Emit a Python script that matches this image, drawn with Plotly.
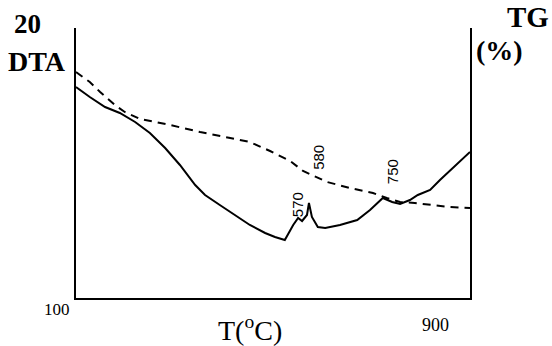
import plotly.graph_objects as go

# DTA curve (solid) - temperature (°C) vs. arbitrary signal
dta_T = [100, 128, 159, 189, 220, 250, 281, 311, 342, 362, 392, 423, 453, 484, 504, 524,
         541, 551, 559, 569, 573, 579, 591, 606, 636, 671, 697, 723, 742, 758, 778, 794,
         819, 839, 866, 894, 900]
dta_v = [211, 201, 191, 185, 176, 165, 150, 133, 113, 103, 93, 83, 73, 65, 61, 58,
         73, 80, 77, 83, 95, 81, 71, 70, 73, 78, 88, 100, 96, 94, 98, 103,
         108, 118, 130, 143, 146]

# TG curve (dashed)
tg_T = [100, 128, 149, 179, 199, 230, 291, 352, 413, 453, 494, 535, 561, 610, 656, 703,
        731, 758, 788, 825, 859, 900]
tg_v = [226, 216, 206, 193, 186, 179, 173, 166, 160, 156, 147, 137, 127, 116, 110, 105,
        100, 96, 95, 93, 91, 90]

# peak annotations
peak_labels = ["570", "580", "750"]
peak_T = [549, 591, 742]
peak_v = [93, 141, 126]

x_ticks = ["100", "900"]

W, H = 552, 346
L, R, T, B = 76, 82, 28, 48
pw, ph = W - L - R, H - T - B

def px(x):
    return (x - L) / pw

def py(y):
    return (H - B - y) / ph

fig = go.Figure()
fig.add_trace(go.Scatter(x=dta_T, y=dta_v, mode="lines",
                         line=dict(color="black", width=2), showlegend=False))
fig.add_trace(go.Scatter(x=tg_T, y=tg_v, mode="lines",
                         line=dict(color="black", width=2, dash="8px,6px"), showlegend=False))

serif = "Liberation Serif, Times New Roman, serif"
narrow = "Liberation Sans Narrow, Arial Narrow, Liberation Sans, sans-serif"

for lab, tx, vy in zip(peak_labels, peak_T, peak_v):
    fig.add_annotation(x=tx, y=vy, xref="x", yref="y", text=lab, showarrow=False,
                       textangle=-90, font=dict(family=narrow, size=15, color="black"))

texts = [
    ("<b>20</b>", 27, 24, 27),
    ("<b>DTA</b>", 37, 61, 28),
    ("<b>TG</b>", 528, 17, 29),
    ("<b>(%)</b>", 500, 51, 28),
    (x_ticks[0], 57, 309, 17),
    (x_ticks[1], 435, 325, 18),
    ("T(<sup>o</sup>C)", 250, 328, 28),
]
for t, x, y, s in texts:
    fig.add_annotation(x=px(x), y=py(y), xref="paper", yref="paper", text=t,
                       showarrow=False, xanchor="center", yanchor="middle",
                       font=dict(family=serif, size=s, color="black"))

fig.update_layout(
    width=W, height=H,
    margin=dict(l=L, r=R, t=T, b=B, pad=0),
    plot_bgcolor="white", paper_bgcolor="white",
    xaxis=dict(range=[100, 900], showgrid=False, zeroline=False, showticklabels=False,
               ticks="", showline=True, linecolor="black", linewidth=2, mirror=False),
    yaxis=dict(range=[0, 270], showgrid=False, zeroline=False, showticklabels=False,
               ticks="", showline=True, linecolor="black", linewidth=2, mirror=True),
)

fig.write_html("out.html")
